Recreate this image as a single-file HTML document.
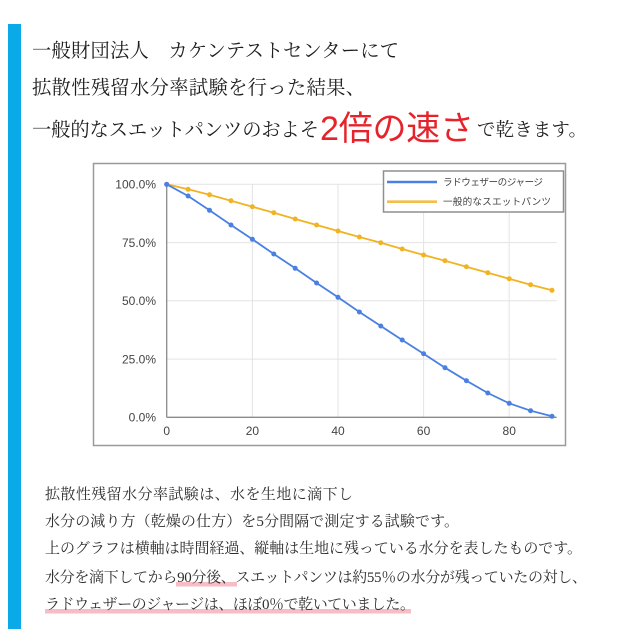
<!DOCTYPE html>
<html lang="ja">
<head>
<meta charset="utf-8">
<style>
  html,body{margin:0;padding:0;background:#fff;}
  body{width:640px;height:640px;overflow:hidden;position:relative;}
  svg{position:absolute;left:0;top:0;}
  .serif{font-family:"Liberation Serif","Noto Serif CJK SC",serif;}
  .sans{font-family:"Liberation Sans","Noto Sans CJK JP",sans-serif;}
</style>
</head>
<body>
<svg width="640" height="640" viewBox="0 0 640 640" xmlns="http://www.w3.org/2000/svg">
  <!-- left bar -->
  <rect x="8" y="24" width="13" height="605" fill="#0aa9e8"/>

  <!-- header -->
  <g class="serif" fill="#1e1e1e" font-size="19.3">
    <text x="32" y="57" textLength="367" lengthAdjust="spacing">一般財団法人　カケンテストセンターにて</text>
    <text x="32" y="94" textLength="333" lengthAdjust="spacing">拡散性残留水分率試験を行った結果、</text>
    <text x="32" y="136" textLength="287" lengthAdjust="spacing">一般的なスエットパンツのおよそ</text>
    <text x="477" y="136" font-size="18.5" textLength="110" lengthAdjust="spacing">で乾きます。</text>
  </g>
  <text class="sans" x="320" y="140" font-size="34" fill="#e6232b" textLength="154" lengthAdjust="spacing">2倍の速さ</text>

  <!-- chart frame -->
  <rect x="93.5" y="163.5" width="472" height="282" fill="#fff" stroke="#9a9a9a" stroke-width="1.5"/>

  <!-- gridlines -->
  <g stroke="#e3e3e3" stroke-width="1">
    <line x1="166.7" y1="242.6" x2="556.7" y2="242.6"/>
    <line x1="166.7" y1="300.8" x2="556.7" y2="300.8"/>
    <line x1="166.7" y1="359.1" x2="556.7" y2="359.1"/>
    <line x1="166.7" y1="184.3" x2="556.7" y2="184.3"/>
    <line x1="252.4" y1="184.3" x2="252.4" y2="417.3"/>
    <line x1="338.0" y1="184.3" x2="338.0" y2="417.3"/>
    <line x1="423.6" y1="184.3" x2="423.6" y2="417.3"/>
    <line x1="509.2" y1="184.3" x2="509.2" y2="417.3"/>
  </g>
  <!-- axes -->
  <line x1="166.7" y1="184.3" x2="166.7" y2="417.3" stroke="#8a8a8a" stroke-width="1.3"/>
  <line x1="166.7" y1="417.3" x2="556.7" y2="417.3" stroke="#8a8a8a" stroke-width="1.3"/>

  <!-- y labels -->
  <g font-family="Liberation Sans, Arial, sans-serif" font-size="12" fill="#444" text-anchor="end">
    <text x="156" y="188.5">100.0%</text>
    <text x="156" y="246.8">75.0%</text>
    <text x="156" y="305">50.0%</text>
    <text x="156" y="363.3">25.0%</text>
    <text x="156" y="421.5">0.0%</text>
  </g>
  <!-- x labels -->
  <g font-family="Liberation Sans, Arial, sans-serif" font-size="12" fill="#444" text-anchor="middle">
    <text x="166.7" y="435">0</text>
    <text x="252.4" y="435">20</text>
    <text x="338.0" y="435">40</text>
    <text x="423.6" y="435">60</text>
    <text x="509.2" y="435">80</text>
  </g>

  <!-- orange series -->
  <polyline fill="none" stroke="#f2b322" stroke-width="1.8" points="166.7,184.3 188.1,189.3 209.5,194.7 231.0,200.7 252.4,206.7 273.8,212.7 295.2,219 316.6,225 338.0,231 359.4,237 380.8,242.7 402.2,249 423.6,255 445.0,260.7 466.4,266.7 487.8,272.7 509.2,278.7 530.6,284.7 552.0,290.3"/>
  <g fill="#f2b322">
    <circle cx="188.1" cy="189.3" r="2.5"/><circle cx="209.5" cy="194.7" r="2.5"/><circle cx="231.0" cy="200.7" r="2.5"/><circle cx="252.4" cy="206.7" r="2.5"/><circle cx="273.8" cy="212.7" r="2.5"/><circle cx="295.2" cy="219" r="2.5"/><circle cx="316.6" cy="225" r="2.5"/><circle cx="338.0" cy="231" r="2.5"/><circle cx="359.4" cy="237" r="2.5"/><circle cx="380.8" cy="242.7" r="2.5"/><circle cx="402.2" cy="249" r="2.5"/><circle cx="423.6" cy="255" r="2.5"/><circle cx="445.0" cy="260.7" r="2.5"/><circle cx="466.4" cy="266.7" r="2.5"/><circle cx="487.8" cy="272.7" r="2.5"/><circle cx="509.2" cy="278.7" r="2.5"/><circle cx="530.6" cy="284.7" r="2.5"/><circle cx="552.0" cy="290.3" r="2.5"/>
  </g>

  <!-- blue series -->
  <polyline fill="none" stroke="#4a80e2" stroke-width="1.8" points="166.7,184.3 188.1,196 209.5,210.3 231.0,225 252.4,239.3 273.8,254 295.2,268.3 316.6,283 338.0,297.3 359.4,312 380.8,326 402.2,340 423.6,353.7 445.0,367.7 466.4,380.7 487.8,393 509.2,403.3 530.6,410.7 552.0,416.3"/>
  <g fill="#4a80e2">
    <circle cx="166.7" cy="184.3" r="2.6"/><circle cx="188.1" cy="196" r="2.5"/><circle cx="209.5" cy="210.3" r="2.5"/><circle cx="231.0" cy="225" r="2.5"/><circle cx="252.4" cy="239.3" r="2.5"/><circle cx="273.8" cy="254" r="2.5"/><circle cx="295.2" cy="268.3" r="2.5"/><circle cx="316.6" cy="283" r="2.5"/><circle cx="338.0" cy="297.3" r="2.5"/><circle cx="359.4" cy="312" r="2.5"/><circle cx="380.8" cy="326" r="2.5"/><circle cx="402.2" cy="340" r="2.5"/><circle cx="423.6" cy="353.7" r="2.5"/><circle cx="445.0" cy="367.7" r="2.5"/><circle cx="466.4" cy="380.7" r="2.5"/><circle cx="487.8" cy="393" r="2.5"/><circle cx="509.2" cy="403.3" r="2.5"/><circle cx="530.6" cy="410.7" r="2.5"/><circle cx="552.0" cy="416.3" r="2.5"/>
  </g>

  <!-- legend -->
  <rect x="383.5" y="171" width="180" height="41" fill="#fff" stroke="#8f8f8f" stroke-width="1.5"/>
  <line x1="387" y1="182" x2="437" y2="182" stroke="#4a80e2" stroke-width="2.6"/>
  <line x1="387" y1="201.7" x2="437" y2="201.7" stroke="#f5be4a" stroke-width="2.6"/>
  <g class="sans" font-size="9.6" fill="#444">
    <text x="443" y="185.5" textLength="100" lengthAdjust="spacing">ラドウェザーのジャージ</text>
    <text x="443" y="205.2" textLength="108" lengthAdjust="spacing">一般的なスエットパンツ</text>
  </g>

  <!-- highlights -->
  <rect x="176" y="582" width="61" height="4.5" fill="#f7bcc4"/>
  <rect x="45" y="609" width="366" height="4.5" fill="#f7bcc4"/>

  <!-- body text -->
  <g class="serif" fill="#2e2e2e" font-size="15">
    <text x="45" y="499" textLength="308" lengthAdjust="spacing">拡散性残留水分率試験は、水を生地に滴下し</text>
    <text x="45" y="526" textLength="414" lengthAdjust="spacing">水分の減り方（乾燥の仕方）を5分間隔で測定する試験です。</text>
    <text x="45" y="553" textLength="537" lengthAdjust="spacing">上のグラフは横軸は時間経過、縦軸は生地に残っている水分を表したものです。</text>
    <text x="45" y="582" textLength="542" lengthAdjust="spacing">水分を滴下してから90分後、スエットパンツは約55％の水分が残っていたの対し、</text>
    <text x="45" y="609" textLength="370" lengthAdjust="spacing">ラドウェザーのジャージは、ほぼ0％で乾いていました。</text>
  </g>
</svg>
</body>
</html>
